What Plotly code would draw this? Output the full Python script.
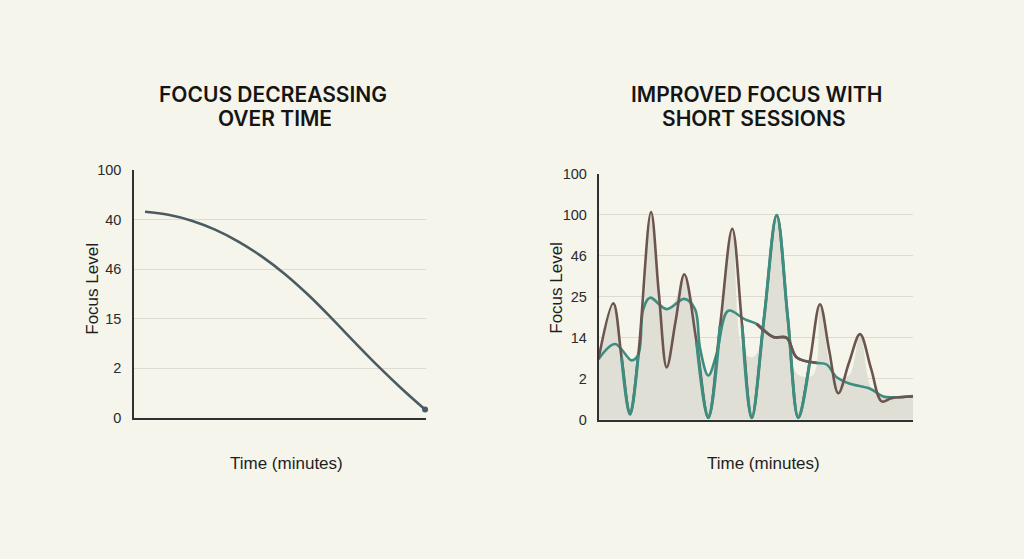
import plotly.graph_objects as go

W, H = 1024, 559

# ---------------- data ----------------
# Left panel: focus decreasing over time (values in axis-level units 0..5)
left_time = [0, 5, 10, 15, 20, 25, 30, 35, 40, 45, 50, 55, 60]
left_focus = [4.16, 4.10, 3.98, 3.80, 3.56, 3.26, 2.90, 2.48, 2.01, 1.52, 1.04, 0.59, 0.17]
left_ticktext = ["0", "2", "15", "46", "40", "100"]

# Right panel: short sessions (values in axis-level units 0..6)
osc_time = [0, 2.82, 4.4, 6.01, 7.6, 10.02, 11.5, 13.01, 14.7, 16.37, 18.7, 20.95,
            23.2, 25.52, 27.4, 29.23, 31.6, 34.0, 36.1, 38.12, 40.35, 42.25, 44.0,
            45.75, 47.8, 49.89, 52.0, 54.03, 55.93, 60]
osc_focus = [1.48, 2.84, 1.52, 0.14, 1.59, 5.07, 3.1, 1.28, 2.4, 3.55, 1.9, 0.05,
             2.3, 4.66, 2.3, 0.05, 2.5, 4.99, 2.5, 0.05, 1.45, 2.82, 1.7,
             0.65, 1.4, 2.09, 1.25, 0.45, 0.53, 0.57]

smooth_time = [0, 3.15, 6.33, 7.59, 8.55, 9.82, 13.01, 16.37, 18.41, 19.36, 20.95,
               22.5, 24.76, 27.95, 30.18, 33.35, 35.9, 37.81, 41.63, 43.53, 45.44,
               48.0, 51.8, 54.33, 56.24, 60]
smooth_focus = [1.48, 1.85, 1.45, 1.59, 2.70, 2.98, 2.70, 2.95, 2.70, 1.75, 1.08,
                1.59, 2.66, 2.45, 2.34, 2.02, 2.00, 1.52, 1.39, 1.35, 1.04,
                0.88, 0.76, 0.57, 0.55, 0.58]

area_time = [0, 2.82, 4.6, 6.3, 7.6, 10.02, 12.0, 13.0, 14.6, 16.37, 18.4, 20.95,
             23.3, 25.52, 27.4, 29.2, 30.8, 34.0, 36.6, 38.1, 41.0, 42.25, 44.3,
             45.75, 47.9, 49.89, 52.0, 54.0, 56.0, 60]
area_focus = [1.48, 2.84, 1.62, 1.45, 1.62, 5.07, 2.75, 2.70, 2.9, 3.55, 2.70, 1.08,
              2.4, 4.66, 1.75, 1.52, 1.75, 4.99, 1.6, 1.1, 1.1, 2.82, 1.3,
              1.04, 1.1, 2.09, 0.8, 0.6, 0.55, 0.58]

right_ticktext = ["0", "2", "14", "25", "46", "100", "100"]

# colour segments (index ranges into the series above)
osc_teal_segments = [(2, 4), (10, 12), (14, 20)]
smooth_brown_segments = [(14, 18)]

# ---------------- style ----------------
BG = "#f5f5eb"
GRID = "#dcdbd2"
AXIS = "#2f3133"
LEFT_LINE = "#4b5b61"
BROWN = "#6c5550"
TEAL = "#3d8d80"
FILL = "#e0dfd5"
FONT = "Liberation Sans, Arial, sans-serif"


def masked(values, segments):
    out = [None] * len(values)
    for a, b in segments:
        for i in range(a, b + 1):
            out[i] = values[i]
    return out


fig = go.Figure()

# Left panel
fig.add_trace(go.Scatter(x=left_time, y=left_focus, mode="lines",
                         line=dict(color=LEFT_LINE, width=2.6, shape="spline"),
                         xaxis="x", yaxis="y", showlegend=False, hoverinfo="skip"))
fig.add_trace(go.Scatter(x=[left_time[-1]], y=[left_focus[-1]], mode="markers",
                         marker=dict(color=LEFT_LINE, size=6),
                         xaxis="x", yaxis="y", showlegend=False, cliponaxis=False))

# Right panel
fig.add_trace(go.Scatter(x=area_time, y=area_focus, mode="none", fill="tozeroy",
                         fillcolor=FILL, line=dict(shape="spline"),
                         xaxis="x2", yaxis="y2", showlegend=False))
fig.add_trace(go.Scatter(x=smooth_time, y=smooth_focus, mode="lines",
                         line=dict(color=TEAL, width=2.6, shape="spline"),
                         xaxis="x2", yaxis="y2", showlegend=False))
fig.add_trace(go.Scatter(x=osc_time, y=osc_focus, mode="lines",
                         line=dict(color=BROWN, width=2.6, shape="spline"),
                         xaxis="x2", yaxis="y2", showlegend=False))
fig.add_trace(go.Scatter(x=osc_time, y=masked(osc_focus, osc_teal_segments), mode="lines",
                         line=dict(color=TEAL, width=3.0, shape="spline"),
                         connectgaps=False,
                         xaxis="x2", yaxis="y2", showlegend=False))
fig.add_trace(go.Scatter(x=smooth_time, y=masked(smooth_focus, smooth_brown_segments), mode="lines",
                         line=dict(color=BROWN, width=2.8, shape="spline"),
                         connectgaps=False,
                         xaxis="x2", yaxis="y2", showlegend=False))

# domains in pixels
L = dict(x0=134, x1=426, ytop=167, ybot=422)
R = dict(x0=598.5, x1=913, ytop=170.7, ybot=424)


def xd(p):
    return [p["x0"] / W, p["x1"] / W]


def yd(p):
    return [(H - p["ybot"]) / H, (H - p["ytop"]) / H]


tickfont = dict(family=FONT, size=14.5, color="#2b2b2b")

fig.update_layout(
    width=W, height=H,
    margin=dict(l=0, r=0, t=0, b=0),
    paper_bgcolor=BG, plot_bgcolor=BG,
    showlegend=False,
    xaxis=dict(domain=xd(L), range=[-2.36, 60.2], showgrid=False, zeroline=False,
               showticklabels=False, ticks="", showline=True, linecolor=AXIS, linewidth=1.5),
    yaxis=dict(domain=yd(L), range=[0, 5], tickmode="array",
               tickvals=list(range(len(left_ticktext))), ticktext=left_ticktext,
               showgrid=False, zeroline=False, showline=True, linecolor=AXIS, linewidth=1.5,
               ticks="outside", ticklen=8, tickcolor="rgba(0,0,0,0)", tickfont=tickfont,
               minor=dict(tickmode="array", tickvals=[1, 2, 3, 4], showgrid=True,
                          gridcolor=GRID, gridwidth=1, ticks="")),
    xaxis2=dict(domain=xd(R), range=[0, 60], showgrid=False, zeroline=False,
                showticklabels=False, ticks="", showline=True, linecolor=AXIS, linewidth=1.5,
                anchor="y2"),
    yaxis2=dict(domain=yd(R), range=[0, 6], tickmode="array",
                tickvals=list(range(len(right_ticktext))), ticktext=right_ticktext,
                showgrid=False, zeroline=False, showline=True, linecolor=AXIS, linewidth=1.5,
                ticks="outside", ticklen=7, tickcolor="rgba(0,0,0,0)", tickfont=tickfont,
                anchor="x2",
                minor=dict(tickmode="array", tickvals=[1, 2, 3, 4, 5, 6], showgrid=True,
                           gridcolor=GRID, gridwidth=1, ticks="")),
)

title_font = dict(family="Inter, Liberation Sans, Arial, sans-serif", size=21, color="#151515",
                  weight=600)
label_font = dict(family=FONT, size=17, color="#1e1e1e")


def ann(text, px, py, font, angle=0):
    fig.add_annotation(text=text, x=px / W, y=1 - py / H, xref="paper", yref="paper",
                       showarrow=False, font=font, textangle=angle,
                       xanchor="center", yanchor="middle", align="center")


ann("FOCUS DECREASSING", 272.5, 89, title_font)
ann("OVER TIME", 275, 114, title_font)
ann("IMPROVED FOCUS WITH", 756, 89, title_font)
ann("SHORT SESSIONS", 754, 114, title_font)
ann("Focus Level", 93, 289, label_font, -90)
ann("Focus Level", 557, 288, label_font, -90)
ann("Time (minutes)", 286, 469, label_font)
ann("Time (minutes)", 763, 469, label_font)

fig.write_html("out.html")
